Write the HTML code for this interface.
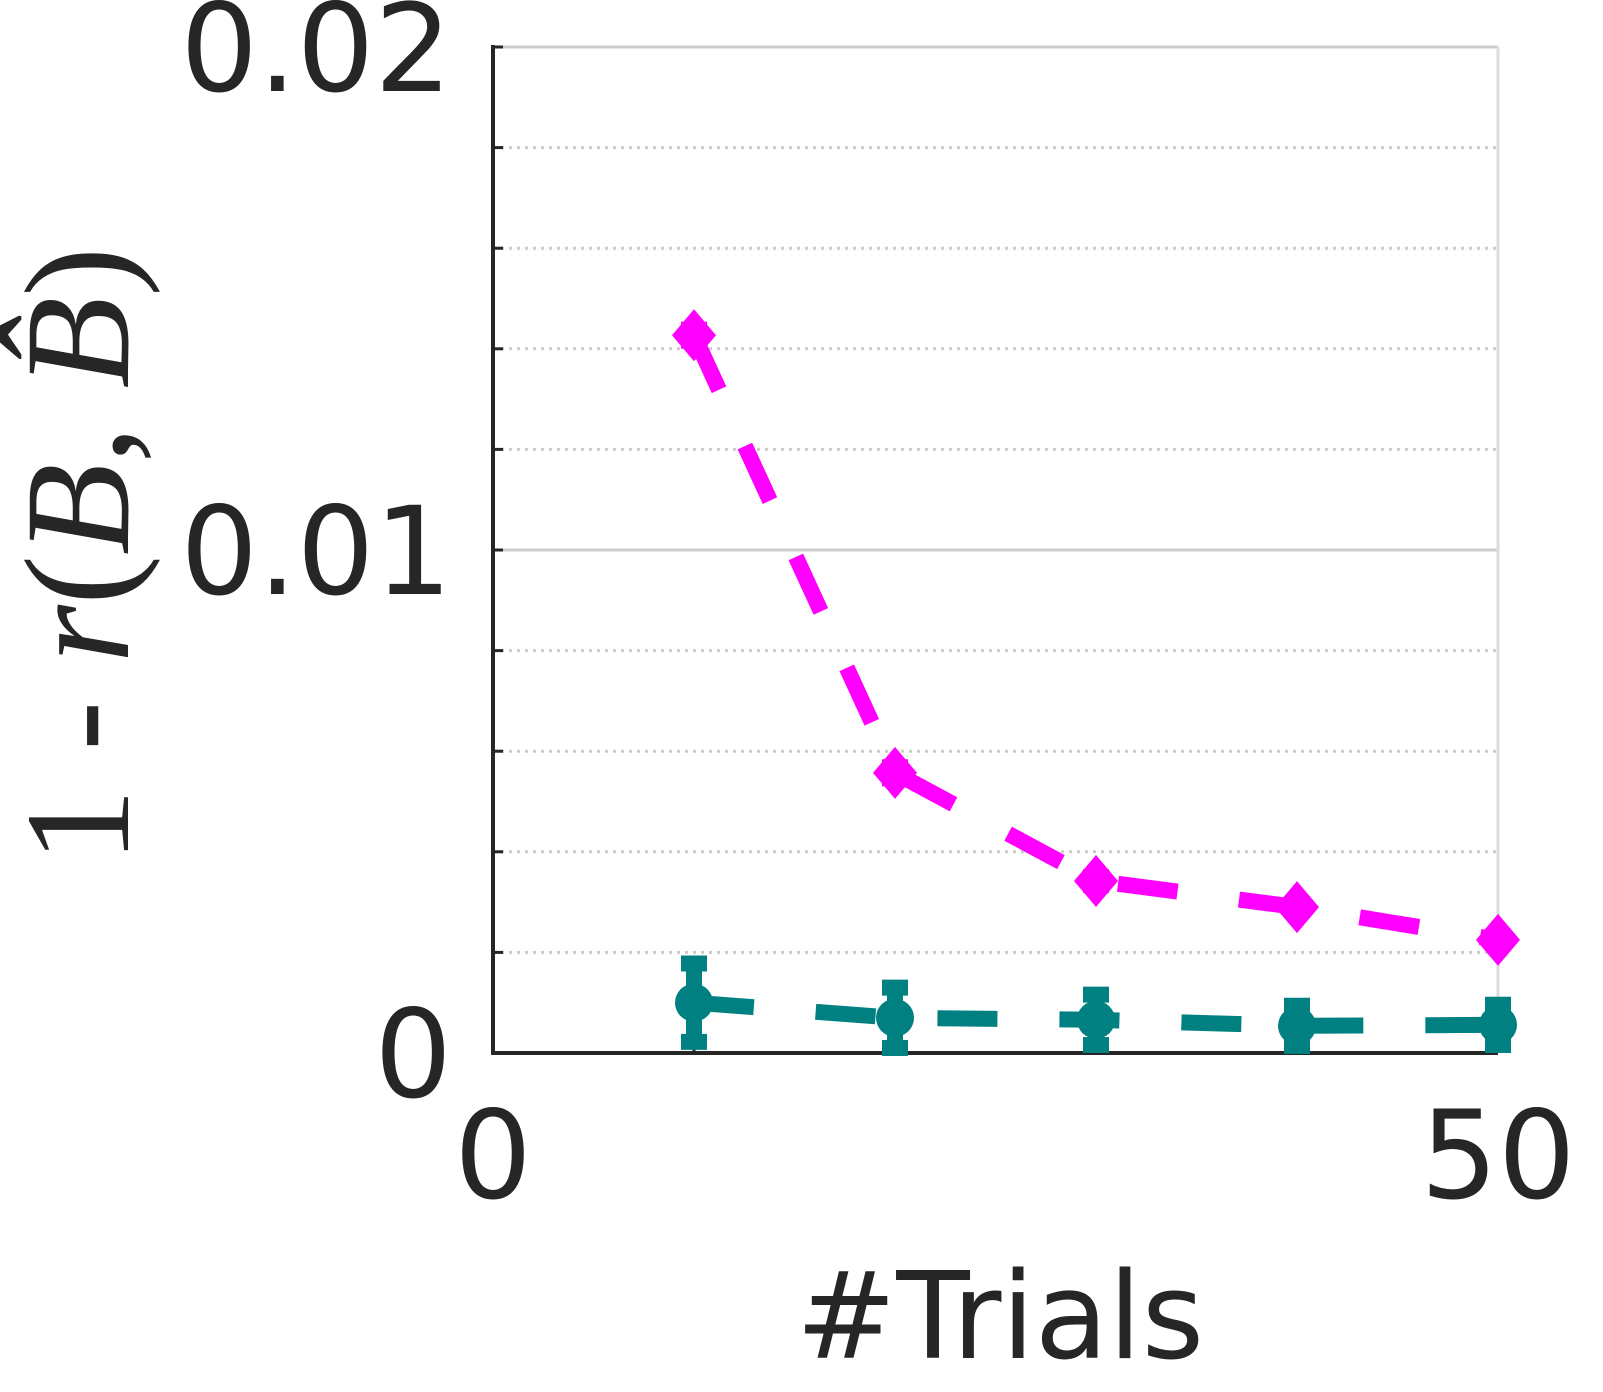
<!DOCTYPE html>
<html><head><meta charset="utf-8"><style>
html,body{margin:0;padding:0;background:#fff;}
svg{display:block;font-family:"DejaVu Sans","Liberation Sans",sans-serif;}
</style></head><body>
<svg id="chart" width="1603" height="1392" viewBox="0 0 1603 1392" xmlns="http://www.w3.org/2000/svg">
<g id="grid"></g>
<g id="axes"></g>
<g id="series"></g>
<text x="1000" y="1358" font-size="120" fill="#262626" text-anchor="middle">#Trials</text>
<text transform="translate(128,555) rotate(-90)" font-size="150" fill="#262626" text-anchor="middle" font-family="'Liberation Serif',serif"><tspan>1 - </tspan><tspan font-style="italic">r</tspan><tspan>(</tspan><tspan font-style="italic">B</tspan><tspan>, </tspan><tspan font-style="italic">B̂</tspan><tspan>)</tspan></text>
</svg>
<script>
const xs=[10,20,30,40,50];
const magenta=[0.01427,0.00557,0.00342,0.0029,0.00225];
const magentaErr=[0.00015,0.00015,0.00012,0.0001,0.0001];
const teal=[0.001,0.0007,0.00066,0.00054,0.00056];
const tealErr=[0.00078,0.0006,0.0005,0.0004,0.0004];
const xTicks=[0,50];
const yTicks=[0,0.01,0.02];
const yTickLabels=["0","0.01","0.02"];
const NS="http://www.w3.org/2000/svg";
const X0=493,X1=1498,Y0=1053,Y1=47;
const sx=v=>X0+(v-0)/(50-0)*(X1-X0);
const sy=v=>Y0-(v/0.02)*(Y0-Y1);
function mk(tag,attrs,parent){const e=document.createElementNS(NS,tag);for(const k in attrs)e.setAttribute(k,attrs[k]);parent.appendChild(e);return e;}
const grid=document.getElementById('grid'),axes=document.getElementById('axes'),series=document.getElementById('series');
for(let i=1;i<=10;i++){const v=i*0.002;const y=sy(v);
const l=mk('line',{x1:X0,x2:X1,y1:y,y2:y,stroke:'#cccccc','stroke-width':3,'stroke-dasharray':(i%5===0)?'none':'3 5'},grid);

const t=mk('line',{x1:X0,x2:X0+10,y1:y,y2:y,stroke:'#262626','stroke-width':3},axes);
}
const rg=mk('line',{x1:X1,x2:X1,y1:Y1,y2:Y0,stroke:'#dddddd','stroke-width':3},grid);

const ya=mk('line',{x1:X0,x2:X0,y1:Y1-2,y2:Y0+2,stroke:'#262626','stroke-width':4},axes);

const xa=mk('line',{x1:X0-2,x2:X1,y1:Y0,y2:Y0,stroke:'#262626','stroke-width':4},axes);

xs.forEach(v=>{const t=mk('line',{x1:sx(v),x2:sx(v),y1:Y0,y2:Y0-10,stroke:'#262626','stroke-width':3},axes);
});
yTicks.forEach((v,i)=>{const t=mk('text',{x:452,y:sy(v)+44,'font-size':122,fill:'#262626','text-anchor':'end'},axes);t.textContent=yTickLabels[i];
});
xTicks.forEach(v=>{const t=mk('text',{x:sx(v),y:1198,'font-size':122,fill:'#262626','text-anchor':'middle'},axes);t.textContent=String(v);
});
function drawSeries(vals,errs,color,name,marker){
const g=mk('g',{},series);
const pts=xs.map((x,i)=>sx(x)+','+sy(vals[i])).join(' ');
const pl=mk('polyline',{points:pts,fill:'none',stroke:color,'stroke-width':16,'stroke-dasharray':'60 62'},g);

xs.forEach((x,i)=>{const cx=sx(x),cy=sy(vals[i]),e1=sy(vals[i]+errs[i]),e0=sy(vals[i]-errs[i]);
const eb=mk('path',{d:`M${cx},${e1}V${e0}M${cx-13},${e1}H${cx+13}M${cx-13},${e0}H${cx+13}`,stroke:color,'stroke-width':(marker==='d'?12:16),fill:'none'},g);

let m;
if(marker==='d'){m=mk('path',{d:`M${cx},${cy-26}L${cx+22},${cy}L${cx},${cy+26}L${cx-22},${cy}Z`,fill:color},g);}
else{m=mk('circle',{cx:cx,cy:cy,r:19,fill:color},g);}
});}
drawSeries(magenta,magentaErr,'#ff00ff','magenta','d');
drawSeries(teal,tealErr,'#008080','teal','o');
</script>
</body></html>
